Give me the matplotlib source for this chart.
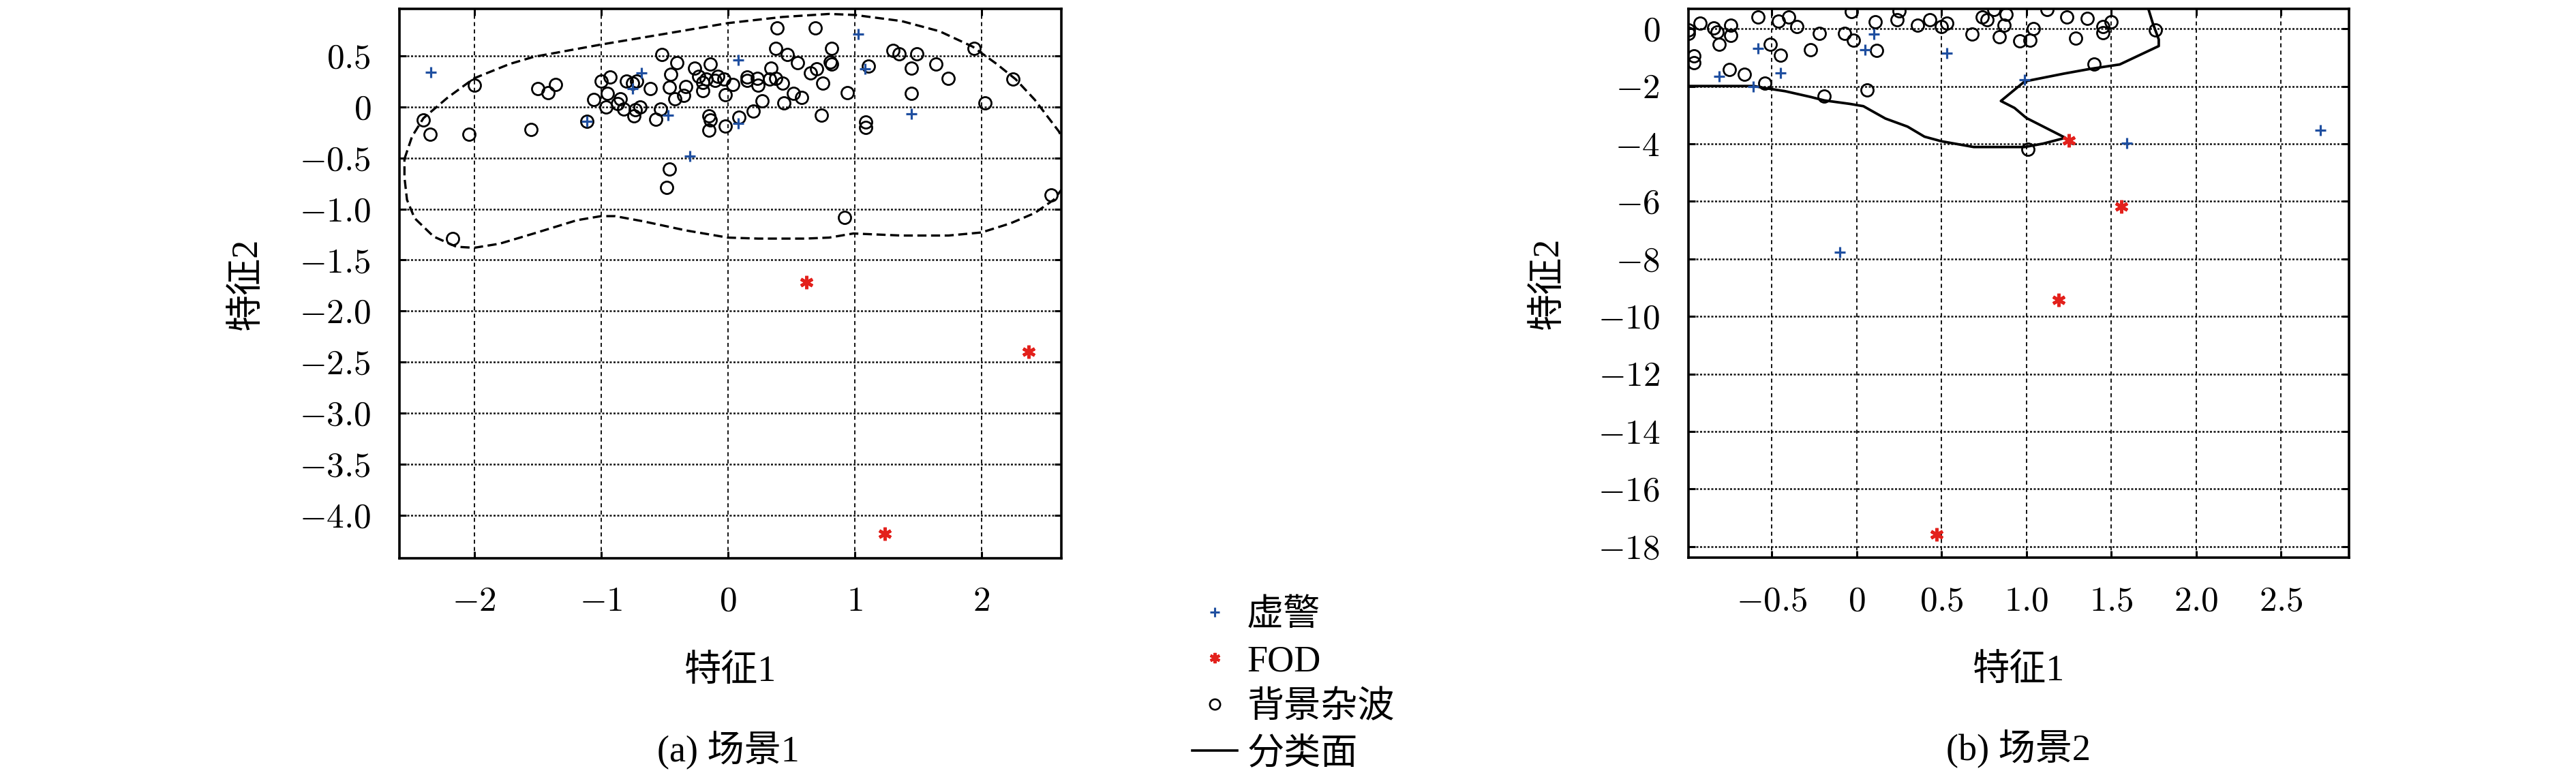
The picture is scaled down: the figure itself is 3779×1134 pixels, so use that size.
import matplotlib
matplotlib.use("Agg")
import matplotlib.pyplot as plt
from matplotlib.lines import Line2D

plt.rcParams['font.family'] = ['Liberation Serif', 'Noto Sans CJK SC']
plt.rcParams['mathtext.fontset'] = 'cm'
plt.rcParams['axes.unicode_minus'] = True

# ---- scene 1 ----
bg1_x = [-2.00, -2.40, -2.35, -2.04, -1.50, -1.42, -1.36, -1.55, -1.11, -1.00,
         -0.93, -0.95, -1.06, -0.96, -0.85, -0.87, -0.82, -0.80, -0.75, -0.72,
         -0.74, -0.69, -0.73, -0.61, -0.52, -0.40, -0.45, -0.46, -0.42, -0.35,
         -0.33, -0.53, -0.57, -0.26, -0.14, -0.23, -0.20, -0.17, -0.20, -0.08,
         -0.10, -0.03, -0.02, -0.15, -0.14, -0.15, -0.02, -0.46, -0.48,
         0.04, 0.09, 0.15, 0.15, 0.23, 0.24, 0.20, 0.27, 0.33, 0.34,
         0.38, 0.43, 0.39, 0.38, 0.47, 0.55, 0.44, 0.52, 0.58, 0.65,
         0.70, 0.75, 0.69, 0.82, 0.81, 0.82, 0.74, 0.94, 0.92, 1.09,
         1.09, 1.11, 1.30, 1.35, 1.49, 1.45, 1.45, 1.64, 1.74, 1.94,
         2.03, 2.25, 2.55, -2.17]
bg1_y = [0.21, -0.13, -0.27, -0.27, 0.18, 0.14, 0.22, -0.22, -0.14, 0.25,
         0.29, 0.13, 0.07, 0.00, 0.08, 0.03, -0.02, 0.25, 0.23, 0.25,
         -0.09, 0.00, -0.03, 0.18, 0.51, 0.43, 0.32, 0.19, 0.08, 0.11,
         0.20, -0.02, -0.12, 0.38, 0.42, 0.30, 0.24, 0.27, 0.16, 0.30,
         0.26, 0.27, 0.12, -0.09, -0.13, -0.23, -0.19, -0.61, -0.79,
         0.22, -0.10, 0.29, 0.26, 0.28, 0.21, -0.04, 0.06, 0.27, 0.38,
         0.28, 0.23, 0.77, 0.57, 0.51, 0.43, 0.04, 0.13, 0.09, 0.33,
         0.37, 0.23, 0.77, 0.57, 0.44, 0.42, -0.08, 0.14, -1.08, -0.15,
         -0.20, 0.40, 0.55, 0.52, 0.52, 0.38, 0.13, 0.42, 0.28, 0.57,
         0.04, 0.27, -0.86, -1.29]

fa1_x = [-2.34, -0.68, -0.75, -1.11, -0.47, -0.30, 0.08, 0.08, 1.03, 1.08, 1.45]
fa1_y = [0.34, 0.33, 0.18, -0.14, -0.08, -0.48, 0.46, -0.16, 0.71, 0.37, -0.07]

fod1_x = [0.62, 2.37, 1.24]
fod1_y = [-1.72, -2.40, -4.18]

bnd1_x = [-2.55, -2.49, -2.40, -2.21, -2.00, -1.72, -1.53, -1.00, -0.52, 0.00,
          0.43, 0.80, 1.00, 1.37, 1.67, 1.93, 2.12, 2.27, 2.42, 2.61,
          2.70, 2.70, 2.57, 2.42, 2.23, 2.00, 1.74, 1.37, 0.99, 0.80,
          0.61, 0.24, 0.00, -0.33, -0.67, -0.89, -1.00, -1.19, -1.53, -1.80,
          -2.00, -2.14, -2.32, -2.47, -2.53, -2.55, -2.55]
bnd1_y = [-0.51, -0.29, -0.11, 0.09, 0.28, 0.42, 0.49, 0.61, 0.71, 0.82,
          0.88, 0.91, 0.90, 0.84, 0.74, 0.59, 0.42, 0.27, 0.07, -0.24,
          -0.45, -0.70, -0.91, -1.04, -1.14, -1.23, -1.26, -1.26, -1.24, -1.28,
          -1.29, -1.29, -1.28, -1.21, -1.12, -1.07, -1.07, -1.11, -1.24, -1.34,
          -1.38, -1.37, -1.27, -1.09, -0.91, -0.69, -0.51]

xt1 = [-2, -1, 0, 1, 2]
xt1_lbl = ['-2', '-1', '0', '1', '2']
yt1 = [0.5, 0, -0.5, -1.0, -1.5, -2.0, -2.5, -3.0, -3.5, -4.0]
yt1_lbl = ['0.5', '0', '-0.5', '-1.0', '-1.5', '-2.0', '-2.5', '-3.0', '-3.5', '-4.0']

# ---- scene 2 ----
bg2_x = [-0.99, -0.99, -0.92, -0.84, -0.82, -0.81, -0.74, -0.74, -0.96, -0.96,
         -0.75, -0.66, -0.58, -0.46, -0.40, -0.35, -0.51, -0.45, -0.54, -0.27,
         -0.22, -0.07, -0.02, -0.03, 0.06, -0.19, 0.12, 0.11, 0.25, 0.24,
         0.36, 0.43, 0.50, 0.53, 0.68, 0.74, 0.77, 0.81, 0.88, 0.87,
         0.84, 0.96, 1.02, 1.04, 1.01, 1.12, 1.24, 1.36, 1.50, 1.45,
         1.45, 1.29, 1.76, 1.40]
bg2_y = [-0.04, -0.16, 0.20, 0.04, -0.12, -0.55, 0.12, -0.24, -0.95, -1.19,
         -1.42, -1.58, 0.40, 0.26, 0.40, 0.08, -0.55, -0.91, -1.90, -0.74,
         -0.16, -0.16, -0.40, 0.59, -2.13, -2.33, -0.75, 0.24, 0.63, 0.32,
         0.12, 0.32, 0.08, 0.20, -0.18, 0.40, 0.32, 0.66, 0.51, 0.12,
         -0.28, -0.43, -0.40, 0.00, -4.19, 0.67, 0.41, 0.36, 0.25, -0.13,
         0.07, -0.32, -0.05, -1.23]

fa2_x = [0.10, 0.05, -0.58, -0.81, -0.45, -0.61, 0.53, 0.99, 1.59, 2.73, -0.10]
fa2_y = [-0.18, -0.74, -0.67, -1.66, -1.53, -2.02, -0.85, -1.78, -3.97, -3.53, -7.76]

fod2_x = [1.25, 1.56, 1.19, 0.47]
fod2_y = [-3.87, -6.17, -9.43, -17.57]

bnd2_x = [-1.20, -0.605, -0.54, -0.42, -0.27, -0.19, -0.04, 0.04, 0.17, 0.30,
          0.40, 0.50, 0.69, 0.99, 1.10, 1.23, 1.00, 0.93, 0.85, 0.99,
          1.22, 1.37, 1.55, 1.78, 1.78, 1.745, 1.72, 1.70]
bnd2_y = [-1.99, -1.99, -2.06, -2.17, -2.37, -2.49, -2.61, -2.69, -3.12, -3.40,
          -3.75, -3.91, -4.11, -4.11, -3.99, -3.79, -3.10, -2.75, -2.51, -1.83,
          -1.56, -1.40, -1.24, -0.60, -0.37, 0.19, 0.67, 1.20]

xt2 = [-0.5, 0, 0.5, 1.0, 1.5, 2.0, 2.5]
xt2_lbl = ['-0.5', '0', '0.5', '1.0', '1.5', '2.0', '2.5']
yt2 = [0, -2, -4, -6, -8, -10, -12, -14, -16, -18]
yt2_lbl = ['0', '-2', '-4', '-6', '-8', '-10', '-12', '-14', '-16', '-18']

legend_labels = ['虚警', 'FOD', '背景杂波', '分类面']

BLUE = '#1f4fa0'
RED = '#e3211c'
TICK_FS = 37
LABEL_FS = 39

fig = plt.figure(figsize=(37.8, 11.34), dpi=100)
ax1 = fig.add_axes([0.1550, 0.2778, 0.2569, 0.7108])
ax2 = fig.add_axes([0.6553, 0.2784, 0.2563, 0.7104])


def style_axes(ax, xt, xl, yt, yl):
    ax.set_axisbelow(True)
    ax.xaxis.grid(True, linestyle=(0, (3, 2.5)), color='#111111', lw=1.4)
    ax.yaxis.grid(True, linestyle=(0, (1.2, 1.0)), color='#111111', lw=1.8)
    ax.set_xticks(xt)
    ax.set_xticklabels(['$%s$' % s for s in xl])
    ax.set_yticks(yt)
    ax.set_yticklabels(['$%s$' % s for s in yl])
    ax.tick_params(direction='in', length=7, width=2.2, top=True, right=True,
                   labelsize=TICK_FS, pad=30)
    for sp in ax.spines.values():
        sp.set_linewidth(2.6)


def draw_points(ax, bx, by, fx, fy, dx, dy):
    ax.plot(bx, by, ls='none', marker='o', ms=13, mfc='none', mec='black', mew=2.0)
    ax.plot(fx, fy, ls='none', marker='+', ms=12, mec=BLUE, mew=2.3)
    ax.plot(dx, dy, ls='none', marker=(6, 2, 0), ms=14, mec=RED, mew=3.4)


# scene 1
ax1.plot(bnd1_x, bnd1_y, color='black', lw=2.4, ls=(0, (4, 2)))
draw_points(ax1, bg1_x, bg1_y, fa1_x, fa1_y, fod1_x, fod1_y)
ax1.set_xlim(-2.59, 2.63)
ax1.set_ylim(-4.42, 0.96)
style_axes(ax1, xt1, xt1_lbl, yt1, yt1_lbl)
ax1.set_xlabel('特征1', fontsize=LABEL_FS)
ax1.set_ylabel('特征2', fontsize=LABEL_FS)
ax1.xaxis.set_label_coords(0.5, -0.175)
ax1.yaxis.set_label_coords(-0.204, 0.5)

# scene 2
ax2.plot(bnd2_x, bnd2_y, color='black', lw=2.7)
draw_points(ax2, bg2_x, bg2_y, fa2_x, fa2_y, fod2_x, fod2_y)
ax2.set_xlim(-0.99, 2.9)
ax2.set_ylim(-18.39, 0.70)
style_axes(ax2, xt2, xt2_lbl, yt2, yt2_lbl)
ax2.set_xlabel('特征1', fontsize=LABEL_FS)
ax2.set_ylabel('特征2', fontsize=LABEL_FS)
ax2.xaxis.set_label_coords(0.5, -0.175)
ax2.yaxis.set_label_coords(-0.186, 0.5)

fig.text(1068 / 3780, 1 - 1101 / 1134, '(a) 场景1', fontsize=LABEL_FS,
         ha='center', va='center')
fig.text(2961 / 3780, 1 - 1099 / 1134, '(b) 场景2', fontsize=LABEL_FS,
         ha='center', va='center')

handles = [
    Line2D([], [], ls='none', marker='+', ms=10, mec=BLUE, mew=2.2),
    Line2D([], [], ls='none', marker=(6, 2, 0), ms=11, mec=RED, mew=3),
    Line2D([], [], ls='none', marker='o', ms=11, mfc='none', mec='black', mew=1.9),
    Line2D([], [], color='black', lw=2.6),
]
fig.legend(handles, legend_labels, loc='upper left',
           bbox_to_anchor=(1749 / 3780, 1 - 878 / 1134), frameon=False,
           borderpad=0, borderaxespad=0, handlelength=1.22, handletextpad=0.26,
           labelspacing=0.32, fontsize=LABEL_FS)

fig.savefig('out.png', dpi=100)
